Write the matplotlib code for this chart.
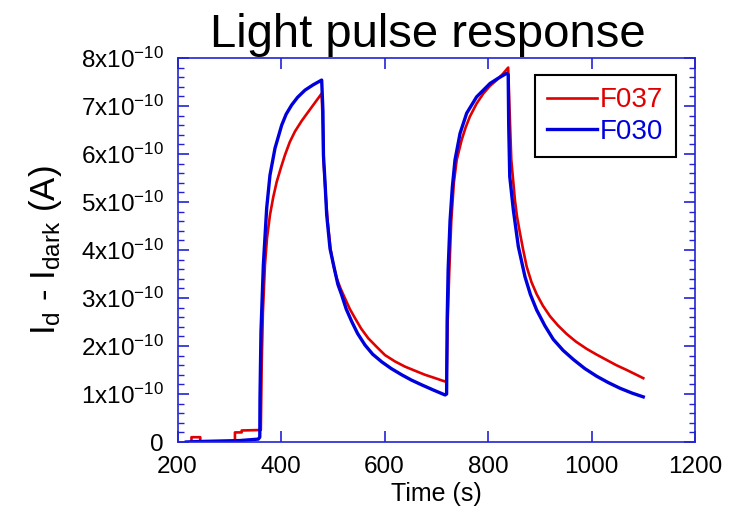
import matplotlib
matplotlib.use('Agg')
import matplotlib.pyplot as plt
from matplotlib.ticker import MultipleLocator, FuncFormatter

plt.rcParams['font.family'] = ['Liberation Sans', 'DejaVu Sans']
plt.rcParams['mathtext.default'] = 'regular'

SCALE = 1e-10  # values below are in units of 1e-10 A

# F037 (red)
t_f037 = [227, 227, 244, 244, 311, 311, 324, 324, 361, 362.7, 365, 369, 373,
          378.7, 385, 391.7, 400, 407.7, 417, 427, 440, 452.8, 465, 478.6,
          481, 482, 486, 490, 496, 501, 507.6, 515, 523.7, 533, 543, 555,
          568.7, 585, 601, 620, 639.6, 660, 678.3, 698, 717,
          720, 722, 725, 729, 734, 739.5, 749, 757, 765, 778, 791, 804,
          816.8, 828, 839, 842, 845, 852, 856, 861.8, 868, 874.8, 884, 894,
          906, 919.8, 935, 952, 970, 990.7, 1010, 1029, 1048, 1068, 1085,
          1100]
i_f037 = [0, 0.1, 0.1, 0, 0, 0.2, 0.2, 0.24, 0.25, 1.6, 2.7, 3.69, 4.25,
          4.73, 5.1, 5.42, 5.72, 5.98, 6.25, 6.47, 6.69, 6.88, 7.06, 7.26,
          6.5, 5.9, 5.2, 4.6, 4.0, 3.7, 3.41, 3.2, 2.99, 2.77, 2.58, 2.36,
          2.16, 1.98, 1.81, 1.68, 1.57, 1.48, 1.40, 1.33, 1.26,
          1.3, 2.5, 3.5, 4.6, 5.4, 5.875, 6.29, 6.56, 6.78, 7.05, 7.26, 7.42,
          7.54, 7.66, 7.8, 6.8, 5.875, 5.04, 4.7, 4.35, 4.0, 3.65, 3.33, 3.08,
          2.84, 2.62, 2.43, 2.25, 2.09, 1.94, 1.82, 1.71, 1.6, 1.5, 1.41,
          1.33]

# F030 (blue)
t_f030 = [217, 240, 280, 320, 356, 359, 359.4, 361.3, 365.9, 372.3, 378.7,
          388.4, 401.3, 410, 420.6, 432, 446.4, 462, 478.6, 481, 482, 485,
          488.3, 494.7, 504.3, 510, 517.3, 526, 536.6, 548, 562.3, 577,
          594.6, 613, 633.2, 652, 671.9, 695, 717,
          720, 721, 723, 726.6, 731, 736.2, 746, 758.8, 778, 804, 820, 836,
          839, 840, 842, 849, 858.6, 871.5, 882, 894, 910, 926, 945, 964.8,
          987, 1010, 1032, 1055, 1078, 1100]
i_f030 = [0, 0.01, 0.02, 0.03, 0.06, 0.1, 0.91, 2.3, 3.69, 4.87, 5.56,
          6.12, 6.60, 6.83, 7.02, 7.18, 7.33, 7.44, 7.54, 6.9, 5.98, 5.42,
          4.73, 4.03, 3.55, 3.28, 3.06, 2.77, 2.51, 2.26, 2.02, 1.83,
          1.67, 1.53, 1.40, 1.29, 1.19, 1.08, 0.98,
          1.0, 2.5, 3.6, 4.6, 5.3, 5.875, 6.43, 6.85, 7.19, 7.47, 7.58, 7.68,
          7.65, 6.6, 5.53, 4.83, 4.07, 3.44, 3.07, 2.75, 2.42, 2.14, 1.91,
          1.72, 1.53, 1.37, 1.24, 1.12, 1.02, 0.94]

axis_color = '#2222d4'
red = '#e00000'
blue = '#0000dd'

fig = plt.figure(figsize=(7.35, 5.13), dpi=100)
ax = fig.add_axes([0.2415, 0.1384, 0.7041, 0.7486])

ax.plot(t_f037, [v * SCALE for v in i_f037], color=red, lw=1.9, label='F037')
ax.plot(t_f030, [v * SCALE for v in i_f030], color=blue, lw=2.4, label='F030')

ax.set_xlim(200, 1200)
ax.set_ylim(0, 8 * SCALE)
ax.xaxis.set_major_locator(MultipleLocator(200))
ax.yaxis.set_major_locator(MultipleLocator(1 * SCALE))
ax.yaxis.set_minor_locator(MultipleLocator(0.2 * SCALE))


def fmt(v, pos):
    k = int(round(v / SCALE))
    if k == 0:
        return '0'
    return '%dx10$^{-10}$' % k


ax.yaxis.set_major_formatter(FuncFormatter(fmt))

for s in ax.spines.values():
    s.set_color(axis_color)
    s.set_linewidth(1.2)
ax.tick_params(which='both', direction='in', color=axis_color,
               top=True, right=True, labelcolor='black', labelsize=17.5)
ax.tick_params(which='major', length=8, width=1.2)
ax.tick_params(which='minor', length=4, width=1.0)
ax.tick_params(axis='x', which='minor', top=False, bottom=False)
ax.tick_params(axis='y', which='major', pad=10)
ax.tick_params(axis='x', which='major', pad=10)

ax.set_title('Light pulse response', fontsize=34, pad=8, x=0.483)
ax.set_xlabel('Time (s)', fontsize=18, labelpad=3)
ax.set_ylabel('I$_{d}$ - I$_{dark}$ (A)', fontsize=25, labelpad=12)

leg = ax.legend(loc='upper right', bbox_to_anchor=(0.963, 0.956),
                borderaxespad=0, fontsize=20, fancybox=False,
                handlelength=1.8, handletextpad=0.1, borderpad=0.45,
                labelspacing=0.2, framealpha=1)
leg.get_frame().set_edgecolor('black')
leg.get_frame().set_linewidth(1.5)
for txt, c in zip(leg.get_texts(), [red, blue]):
    txt.set_color(c)

fig.savefig('out.png', dpi=100)
